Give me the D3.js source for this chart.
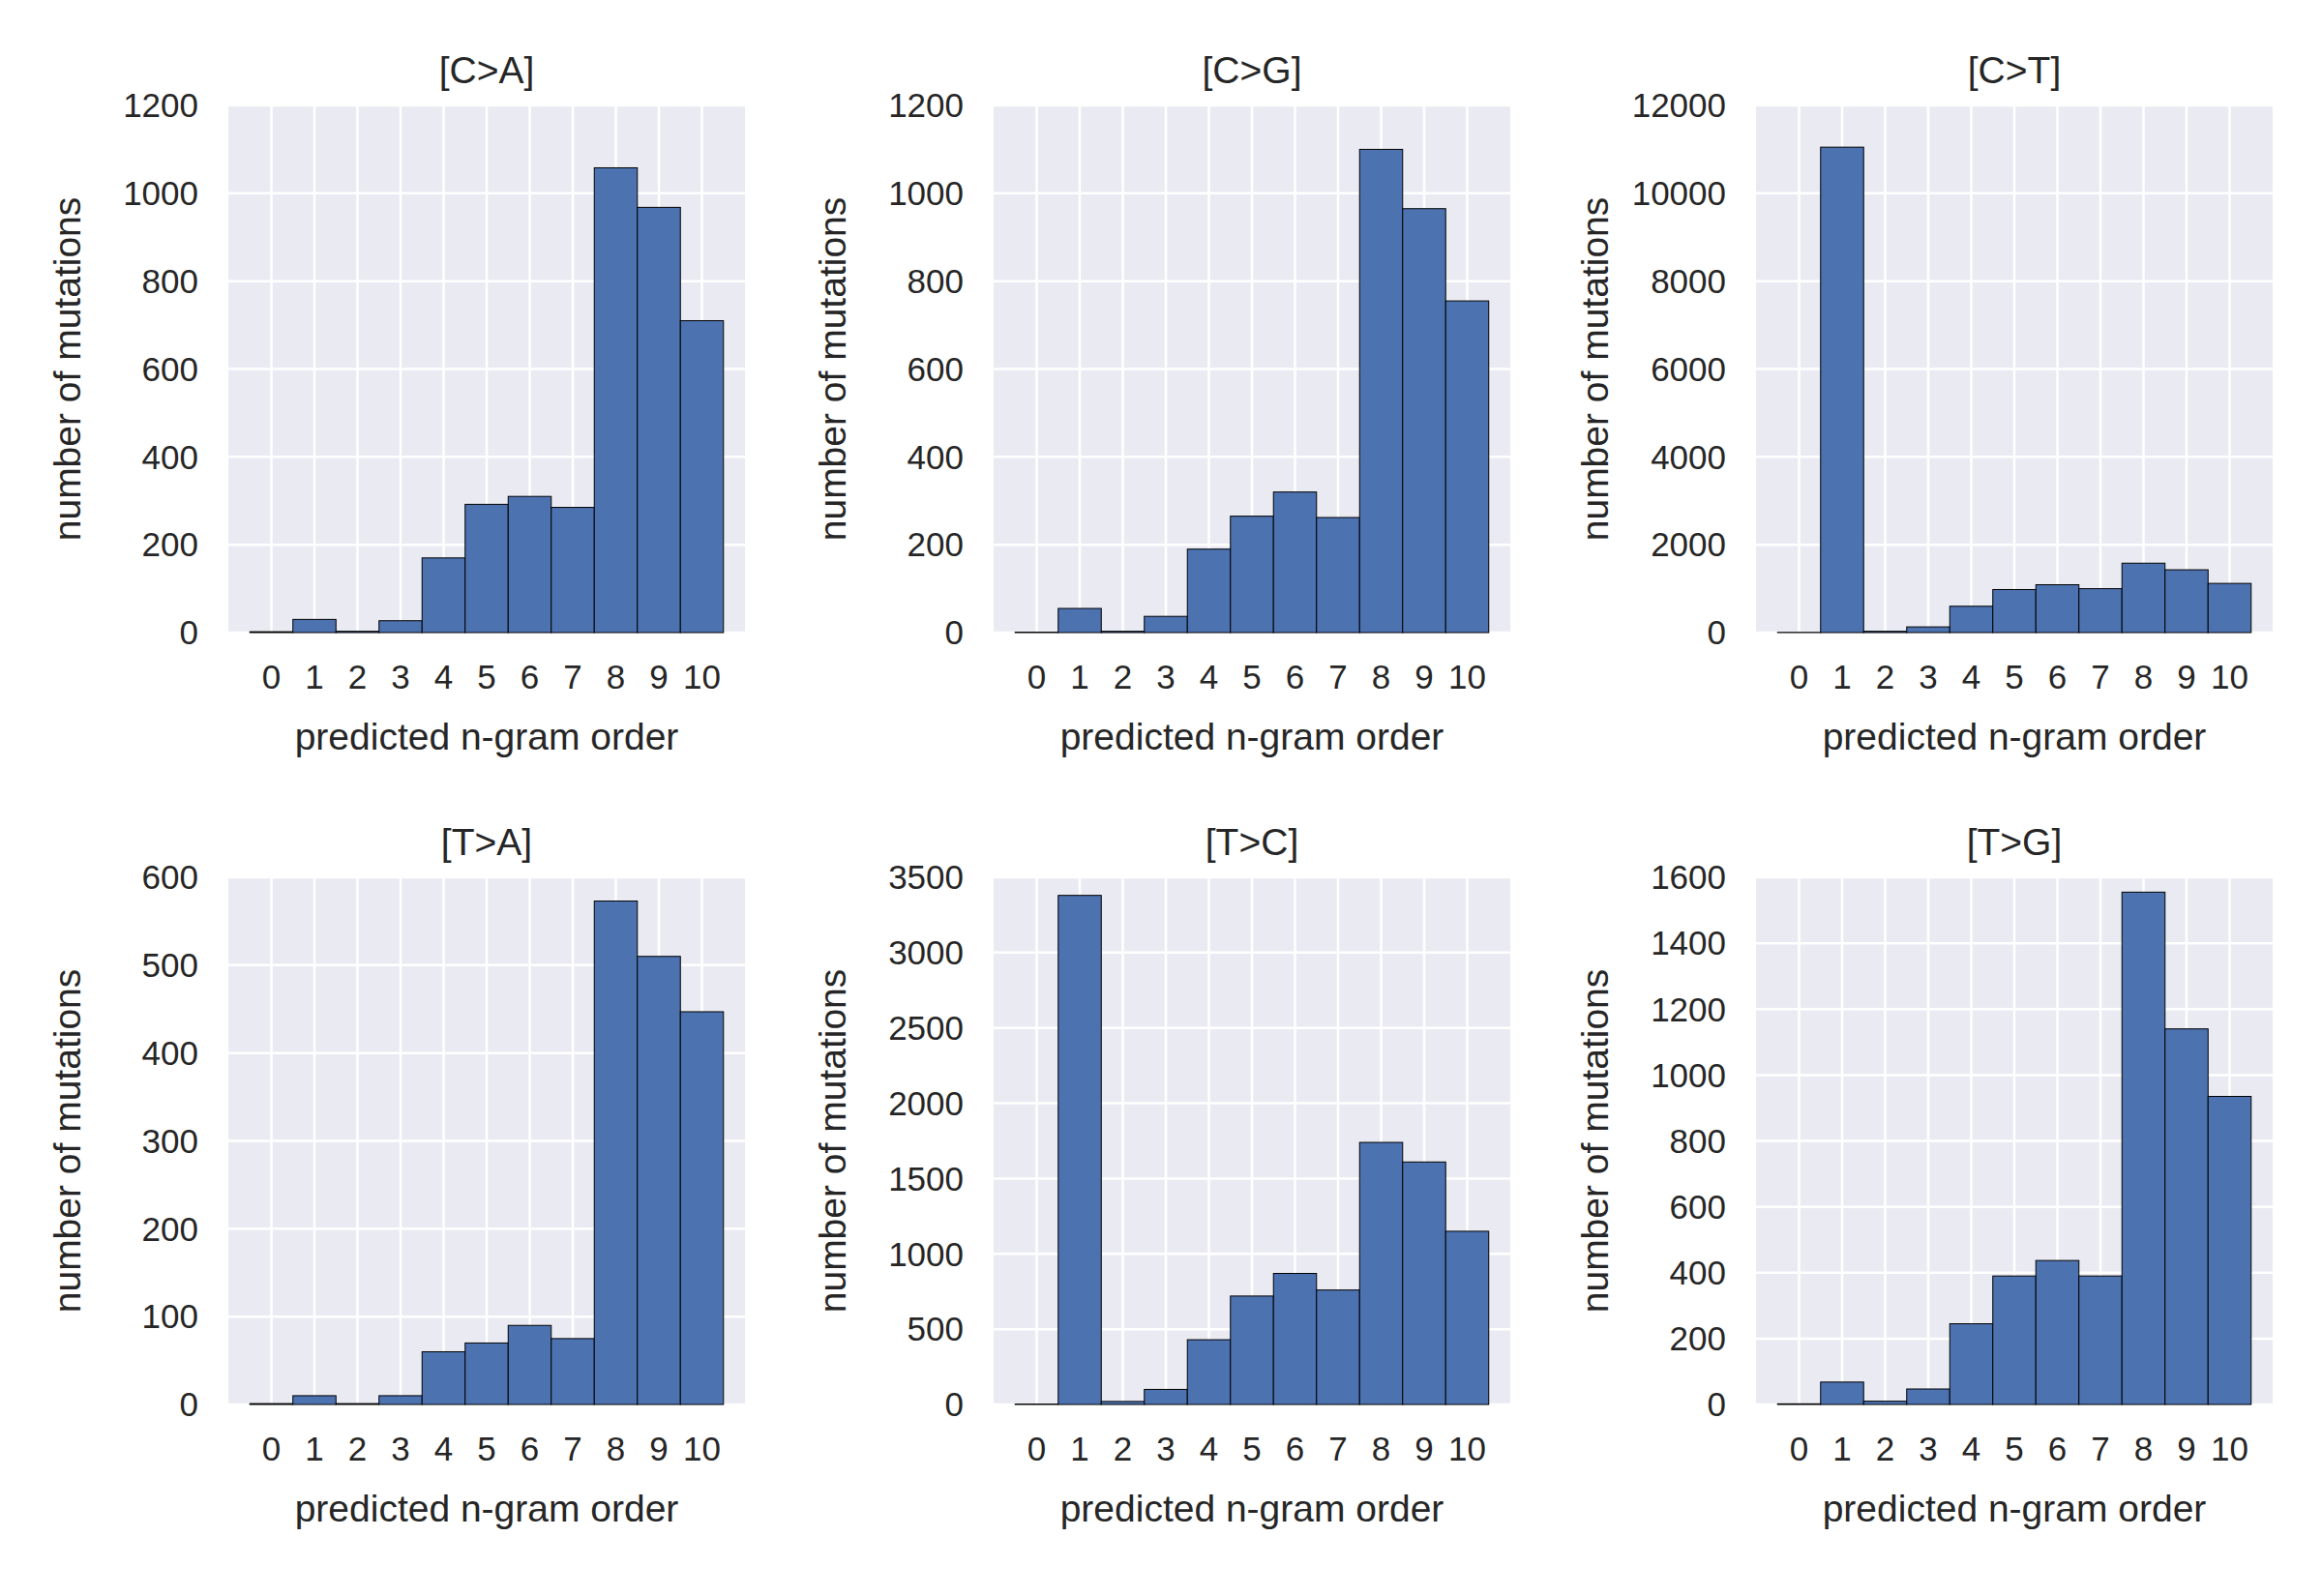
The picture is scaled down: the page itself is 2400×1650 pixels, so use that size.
<!DOCTYPE html>
<html><head><meta charset="utf-8">
<script src="https://cdn.jsdelivr.net/npm/d3@7"></script>
<style>body{margin:0;background:#fff}text{font-family:"Liberation Sans",Arial,sans-serif;fill:#262626}</style>
</head><body>
<script>
const orders = [0,1,2,3,4,5,6,7,8,9,10]
const titles = ['[C>A]','[C>G]','[C>T]','[T>A]','[T>C]','[T>G]']
const ca = [2,30,3,27,170,292,310,285,1058,968,710]
const cg = [1,55,3,37,190,265,320,262,1100,965,755]
const ct = [5,11050,30,130,600,980,1090,1000,1580,1430,1120]
const ta = [1,10,1,10,60,70,90,75,573,510,447]
const tc = [3,3380,20,100,430,720,870,760,1740,1610,1150]
const tg = [2,68,10,47,245,390,437,390,1555,1140,935]
const series = [ca,cg,ct,ta,tc,tg]
const yMax = [1200,1200,12000,600,3500,1600]
const yStep = [200,200,2000,100,500,200]

const colX = [236,1027,1815], colW = 534
const rowY = [109,907], rowH = 545

const svg = d3.select('body').append('svg').attr('width',2400).attr('height',1650)

series.forEach((vals,i)=>{
  const x0 = colX[i%3], y0 = rowY[Math.floor(i/3)]
  const g = svg.append('g').attr('transform',`translate(${x0},${y0})`)
  const x = d3.scaleLinear().domain([-1,11]).range([0,colW])
  const y = d3.scaleLinear().domain([0,yMax[i]]).range([rowH,0])
  const yt = d3.range(0,yMax[i]+1,yStep[i])
  g.append('rect').attr('width',colW).attr('height',rowH).attr('fill','#EAEAF2')
  g.selectAll('.gy').data(yt).enter().append('line')
    .attr('x1',0).attr('x2',colW).attr('y1',d=>y(d)).attr('y2',d=>y(d))
    .attr('stroke','#fff').attr('stroke-width',2.5)
  g.selectAll('.gx').data(orders).enter().append('line')
    .attr('y1',0).attr('y2',rowH).attr('x1',d=>x(d)).attr('x2',d=>x(d))
    .attr('stroke','#fff').attr('stroke-width',2.5)
  g.selectAll('.bar').data(vals).enter().append('rect')
    .attr('x',(d,j)=>x(orders[j]-0.5)).attr('width',x(1)-x(0))
    .attr('y',d=>y(d)).attr('height',d=>rowH-y(d))
    .attr('fill','#4C72B0').attr('stroke','#000').attr('stroke-width',1)
  g.selectAll('.yl').data(yt).enter().append('text')
    .attr('x',-31).attr('y',d=>y(d)).attr('dy','0.35em').attr('text-anchor','end')
    .attr('font-size',35).text(d=>d)
  g.selectAll('.xl').data(orders).enter().append('text')
    .attr('x',d=>x(d)).attr('y',rowH+46).attr('dy','0.35em').attr('text-anchor','middle')
    .attr('font-size',35).text(d=>d)
  g.append('text').attr('x',colW/2).attr('y',rowH+107).attr('dy','0.35em')
    .attr('text-anchor','middle').attr('font-size',39).text('predicted n-gram order')
  g.append('text').attr('x',colW/2).attr('y',-37).attr('dy','0.35em')
    .attr('text-anchor','middle').attr('font-size',39).text(titles[i])
  g.append('text').attr('transform',`translate(${-167},${rowH/2}) rotate(-90)`)
    .attr('dy','0.35em').attr('text-anchor','middle').attr('font-size',39).text('number of mutations')
})
</script>
</body></html>
